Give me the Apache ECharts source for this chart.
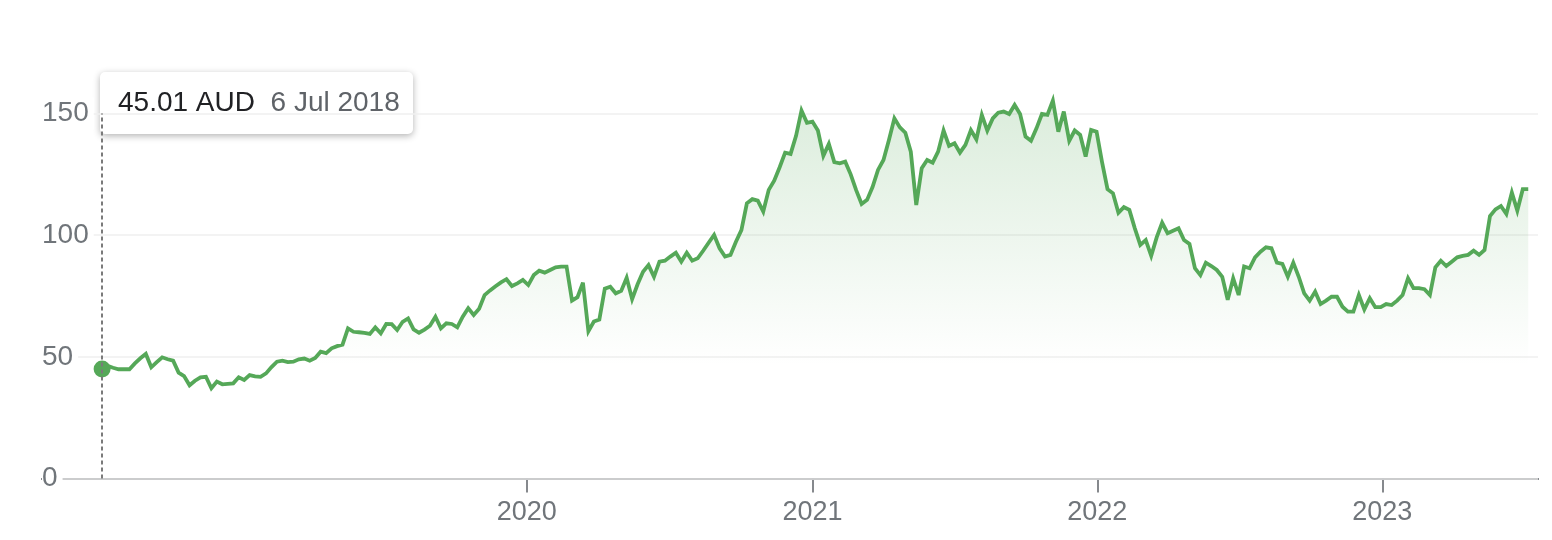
<!DOCTYPE html>
<html>
<head>
<meta charset="utf-8">
<script src="https://cdn.jsdelivr.net/npm/echarts@6/dist/echarts.min.js"></script>
<style>
html,body{margin:0;padding:0;background:#fff;}
#chart{width:1552px;height:540px;}
</style>
</head>
<body>
<div id="chart"></div>
<script>
// ---- data ----
const startDate = [2018, 6, 6];          // first weekly close: 6 Jul 2018 (year, monthIndex, day)
const stepDays = 7;                      // weekly closes
const currency = 'AUD';
const closes = [
  45.01, 46.3, 45.5, 44.9, 44.9, 44.9, 47.3, 49.4, 51.2, 45.7,
  47.8, 49.8, 49.0, 48.4, 43.5, 42.1, 38.3, 40.2, 41.6, 41.8,
  37.1, 39.8, 38.7, 38.9, 39.1, 41.6, 40.5, 42.5, 42.0, 41.8,
  43.2, 45.8, 48.0, 48.4, 47.8, 48.0, 49.0, 49.3, 48.4, 49.5,
  52.1, 51.5, 53.5, 54.4, 55.0, 61.7, 60.3, 60.1, 59.8, 59.4,
  62.1, 59.7, 63.5, 63.4, 61.0, 64.4, 65.8, 61.3, 59.9, 61.2,
  62.8, 66.5, 61.7, 63.8, 63.5, 62.1, 66.5, 70.0, 67.2, 69.8,
  75.4, 77.3, 79.0, 80.6, 81.9, 79.1, 80.2, 81.6, 79.5, 83.6,
  85.4, 84.6, 85.7, 86.8, 87.1, 87.1, 73.1, 74.5, 80.5, 60.5,
  64.5, 65.3, 78.0, 78.8, 76.1, 77.1, 82.5, 73.7, 79.8, 85.0,
  87.7, 82.9, 89.1, 89.5, 91.2, 92.8, 89.1, 92.8, 89.5, 90.5,
  93.6, 96.9, 100.1, 94.6, 91.2, 91.9, 97.3, 102.1, 113.1, 114.8,
  114.2, 109.7, 118.6, 122.4, 127.9, 133.9, 133.4, 140.8, 151.2, 146.2,
  146.7, 143.0, 132.6, 137.5, 130.0, 129.5, 130.2, 125.0, 118.5, 112.8,
  114.5, 119.8, 126.8, 130.9, 139.1, 148.0, 144.3, 142.1, 134.3, 112.4,
  127.5, 130.9, 129.8, 134.3, 143.0, 136.7, 137.8, 133.9, 137.1, 143.2,
  139.4, 149.4, 143.0, 148.0, 150.3, 150.8, 149.8, 153.5, 149.8, 140.5,
  138.8, 143.9, 149.8, 149.4, 155.3, 142.5, 150.8, 138.8, 143.0, 141.2,
  132.3, 143.2, 142.5, 130.0, 118.9, 117.2, 109.2, 111.5, 110.4, 102.8,
  96.0, 98.0, 91.5, 99.1, 105.1, 100.8, 101.8, 102.8, 98.0, 96.4,
  86.4, 83.6, 88.7, 87.3, 85.7, 82.9, 73.4, 82.3, 75.4, 87.1,
  86.4, 90.9, 93.2, 95.0, 94.6, 88.7, 88.2, 82.9, 88.7, 82.9,
  76.1, 73.1, 76.8, 71.7, 73.1, 74.7, 74.7, 70.6, 68.6, 68.6,
  75.4, 69.5, 74.1, 70.4, 70.4, 71.7, 71.3, 73.1, 75.4, 82.3,
  78.2, 78.2, 77.8, 75.4, 86.8, 89.5, 87.3, 89.1, 90.9, 91.5,
  91.9, 93.6, 91.9, 93.9, 107.9, 110.6, 112.0, 108.7, 117.5, 110.1,
  118.9, 118.9
];
const yTicks = [0, 50, 100, 150];
const yearTicks = [2020, 2021, 2022, 2023];
const monthNames = ['Jan','Feb','Mar','Apr','May','Jun','Jul','Aug','Sep','Oct','Nov','Dec'];

// ---- build ----
const dates = closes.map((_, i) =>
  new Date(startDate[0], startDate[1], startDate[2] + i * stepDays).getTime());
const seriesData = closes.map((v, i) => [dates[i], v]);
const yearTickTimes = yearTicks.map(y => new Date(y, 0, 1).getTime());
const firstDate = new Date(dates[0]);
const tipValue = closes[0].toFixed(2) + ' ' + currency;
const tipDate = firstDate.getDate() + ' ' + monthNames[firstDate.getMonth()] + ' ' + firstDate.getFullYear();

const GREEN = '#55a858';
const FONT = "'Liberation Sans', Arial, Helvetica, sans-serif";

const chart = echarts.init(document.getElementById('chart'), null, {renderer: 'canvas'});
chart.setOption({
  animation: false,
  backgroundColor: '#ffffff',
  textStyle: {fontFamily: FONT},
  grid: {left: 42, right: 14, top: 113.5, bottom: 61.5, containLabel: false},
  xAxis: {
    type: 'value',
    min: new Date(2018, 3, 20).getTime(),
    max: new Date(2023, 6, 19, 12).getTime(),
    z: 0,
    axisLine: {show: true, onZero: false, lineStyle: {color: '#5f6368', width: 2}},
    axisTick: {show: true, length: 14, customValues: yearTickTimes, lineStyle: {color: '#5f6368', width: 1.5}},
    axisLabel: {
      show: true, customValues: yearTickTimes, margin: 21,
      fontSize: 27, color: '#70757a', fontFamily: FONT,
      formatter: v => String(new Date(v).getFullYear())
    },
    splitLine: {show: false}
  },
  yAxis: {
    type: 'value',
    min: yTicks[0],
    max: yTicks[yTicks.length - 1],
    interval: yTicks[1] - yTicks[0],
    z: 1,
    axisLine: {show: false},
    axisTick: {show: false},
    axisLabel: {
      inside: true, margin: 0, align: 'left',
      fontSize: 28, color: '#70757a', fontFamily: FONT,
      backgroundColor: '#ffffff', padding: [2, 5, 2, 0]
    },
    splitLine: {show: true, lineStyle: {color: '#efefef', width: 1.5}}
  },
  series: [
    {
      type: 'line',
      data: seriesData,
      showSymbol: false,
      clip: false,
      z: 2,
      lineStyle: {color: GREEN, width: 3.8, join: 'miter', miterLimit: 4},
      areaStyle: {
        color: new echarts.graphic.LinearGradient(0, 0, 0, 1, [
          {offset: 0, color: 'rgba(85,168,88,0.30)'},
          {offset: 0.7, color: 'rgba(85,168,88,0.0)'},
          {offset: 1, color: 'rgba(85,168,88,0.0)'}
        ])
      },
      markLine: {
        silent: true,
        symbol: ['none', 'none'],
        label: {show: false},
        lineStyle: {color: '#7a7a7a', type: [4, 3], width: 2},
        data: [{xAxis: dates[0]}]
      }
    },
    {
      type: 'scatter',
      data: [seriesData[0]],
      symbolSize: 17,
      z: 4,
      itemStyle: {color: GREEN, opacity: 1}
    }
  ],
  graphic: [{
    type: 'group',
    left: 100, top: 72, z: 100,
    children: [
      {
        type: 'rect',
        shape: {x: 0, y: 0, width: 313, height: 62, r: 5},
        style: {fill: '#ffffff', shadowBlur: 7, shadowColor: 'rgba(0,0,0,0.30)', shadowOffsetY: 2}
      },
      {
        type: 'text',
        x: 18, y: 31,
        style: {
          text: '{v|' + tipValue + '}  {d|' + tipDate + '}',
          verticalAlign: 'middle',
          font: '28px ' + FONT,
          rich: {
            v: {fontSize: 28, fill: '#202124', fontFamily: FONT},
            d: {fontSize: 28, fill: '#5f6368', fontFamily: FONT}
          }
        }
      }
    ]
  }]
});
</script>
</body>
</html>
